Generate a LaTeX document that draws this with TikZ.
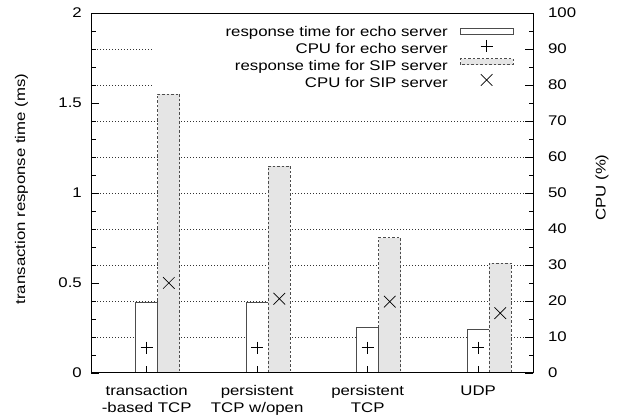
\documentclass[tikz,border=0pt]{standalone}
\usepackage{fontspec}
\setmainfont{Liberation Sans}[FakeStretch=1.2]

\tikzset{
  gridline/.style={black!80, line width=0.5pt, dash pattern=on 0.8pt off 2.2pt},
  echobar/.style={draw=black!70, fill=white, line width=0.9pt},
  sipbar/.style={draw=black!70, fill=gray!20, line width=0.9pt, dash pattern=on 2.5pt off 2pt},
  lbl/.style={font=\fontsize{14}{16.5}\selectfont, inner sep=0pt},
}

\begin{document}
\begin{tikzpicture}[x=110.5pt, y=180pt]
  \useasboundingbox (-1.328,-0.2556) rectangle (4.293,2.0722);

  % dotted grid every 10% CPU
  \foreach \c in {1,...,9}
    \draw[gridline] (-0.5,\c/5) -- (3.5,\c/5);
  % key background covers the grid
  \fill[white] (0.048,1.572) rectangle (3.5,2);

  % bars: echo server (solid) and SIP server (dashed)
  \foreach \i/\e/\s in {0/0.39/1.55, 1/0.39/1.15, 2/0.25/0.75, 3/0.24/0.61} {
    \draw[echobar] (\i-0.1,0) rectangle (\i+0.1,\e);
    \draw[sipbar] (\i+0.1,0) rectangle (\i+0.3,\s);
  }

  % CPU on the right axis (100% = 2)
  \draw[line width=0.7pt] plot[only marks, mark=+, mark size=6pt]
    coordinates {(0,0.14) (1,0.14) (2,0.14) (3,0.14)};
  \draw[line width=0.7pt] plot[only marks, mark=x, mark size=8.2pt]
    coordinates {(0.2,0.5) (1.2,0.412) (2.2,0.396) (3.2,0.332)};

  % frame and ticks
  \draw[line width=0.9pt] (-0.5,0) rectangle (3.5,2);
  \foreach \k in {0,...,20}
    \draw[line width=0.7pt] (-0.5,\k/10) -- ++(5pt,0);
  \foreach \k in {0,5,...,20}
    \draw[line width=0.7pt] (-0.5,\k/10) -- ++(8pt,0);
  \foreach \k in {0,...,20}
    \draw[line width=0.7pt] (3.5,\k/10) -- ++(-4.5pt,0);
  \foreach \k in {0,2,...,20}
    \draw[line width=0.7pt] (3.5,\k/10) -- ++(-8pt,0);
  \foreach \i in {0,...,3}
    \draw[line width=0.7pt] (\i,0) -- ++(0,7pt);

  % tick labels
  \foreach \v/\t in {0/0, 0.5/0.5, 1/1, 1.5/1.5, 2/2}
    \node[lbl, anchor=east] (yl\t) at ([xshift=-9.5pt]-0.5,\v) {\t};
  \foreach \c in {0,10,...,100}
    \node[lbl, anchor=west] (cl\c) at ([xshift=14.5pt]3.5,\c/50) {\c};
  \node[lbl, anchor=north, align=center] (xl0) at ([yshift=-12.5pt]0,0) {transaction\\-based TCP};
  \node[lbl, anchor=north, align=center] (xl1) at ([yshift=-12.5pt]1,0) {persistent\\TCP w/open};
  \node[lbl, anchor=north, align=center] (xl2) at ([yshift=-12.5pt]2,0) {persistent\\TCP};
  \node[lbl, anchor=north, align=center] (xl3) at ([yshift=-12.5pt]3,0) {UDP};

  % axis titles
  \node[lbl, rotate=90] (ytitle) at (-1.133,1.022) {transaction response time (ms)};
  \node[lbl, rotate=90] (y2title) at (4.12,1.03) {CPU (\%)};

  % key
  \node[lbl, anchor=base east] (k1) at (2.727,1.868) {response time for echo server};
  \node[lbl, anchor=base east] (k2) at (2.727,1.774) {CPU for echo server};
  \node[lbl, anchor=base east] (k3) at (2.727,1.680) {response time for SIP server};
  \node[lbl, anchor=base east] (k4) at (2.727,1.585) {CPU for SIP server};
  \draw[echobar] (2.842,1.879) rectangle (3.315,1.913);
  \draw[sipbar] (2.842,1.712) rectangle (3.315,1.746);
  \draw[line width=0.7pt] plot[only marks, mark=+, mark size=6pt] coordinates {(3.077,1.817)};
  \draw[line width=0.7pt] plot[only marks, mark=x, mark size=8.2pt] coordinates {(3.077,1.628)};
\end{tikzpicture}
\end{document}
